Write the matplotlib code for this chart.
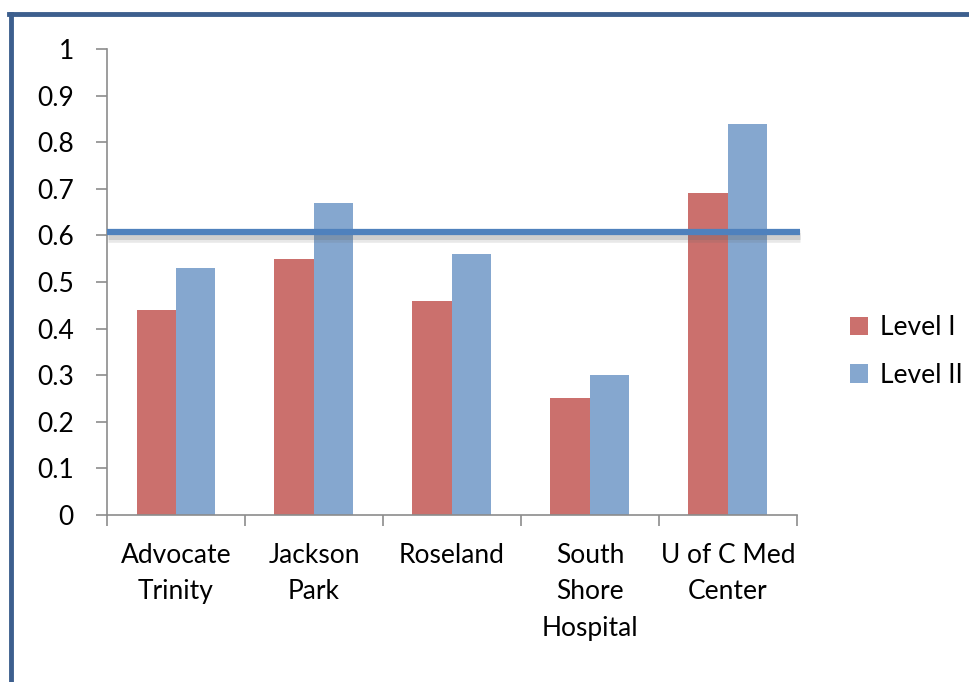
import matplotlib
matplotlib.use("Agg")
import matplotlib.pyplot as plt
import matplotlib.patheffects as pe
import numpy as np

plt.rcParams['font.family'] = ['Lato', 'DejaVu Sans']

# data
hospitals = ['Advocate\nTrinity', 'Jackson\nPark', 'Roseland', 'South\nShore\nHospital', 'U of C Med\nCenter']
level_1 = [0.44, 0.55, 0.46, 0.25, 0.69]
level_2 = [0.53, 0.67, 0.56, 0.30, 0.84]
threshold = 0.607
y_ticks = [0, 0.1, 0.2, 0.3, 0.4, 0.5, 0.6, 0.7, 0.8, 0.9, 1]
y_labels = ['0', '0.1', '0.2', '0.3', '0.4', '0.5', '0.6', '0.7', '0.8', '0.9', '1']

red = '#CB706D'
blue = '#85A7CF'
axis_gray = '#8C8C8C'
fs = 19

fig = plt.figure(figsize=(9.69, 6.82), dpi=100)
ax = fig.add_axes([0.1104, 0.2449, 0.712, 0.6833])

x = np.arange(len(hospitals))
w = 0.286
ax.bar(x - w / 2, level_1, w, color=red, label='Level I', zorder=2)
ax.bar(x + w / 2, level_2, w, color=blue, label='Level II', zorder=2)

# target line with a soft shadow
ax.plot([-0.5, 4.52], [threshold, threshold], color='#4F81BD', lw=4.5, zorder=3,
        solid_capstyle='butt', clip_on=False,
        path_effects=[pe.SimpleLineShadow(offset=(0.5, -2.5), shadow_color='#666666', alpha=0.15, linewidth=9),
                      pe.SimpleLineShadow(offset=(0.5, -2.5), shadow_color='#666666', alpha=0.2, linewidth=5),
                      pe.Normal()])

ax.set_xlim(-0.5, 4.5)
ax.set_ylim(0, 1)
ax.set_yticks(y_ticks)
ax.set_yticklabels(y_labels, fontsize=fs)
ax.set_xticks(np.arange(-0.5, 5, 1))
ax.set_xticklabels([])
ax.set_xticks(x, minor=True)
ax.set_xticklabels(hospitals, minor=True, fontsize=fs, linespacing=1.58)
ax.tick_params(axis='x', which='minor', length=0, pad=20)
ax.tick_params(axis='x', which='major', length=8, color=axis_gray, width=1.2)
ax.tick_params(axis='y', length=8, color=axis_gray, width=1.2, pad=16)

for s in ['top', 'right']:
    ax.spines[s].set_visible(False)
for s in ['left', 'bottom']:
    ax.spines[s].set_color(axis_gray)
    ax.spines[s].set_linewidth(1.2)

leg = fig.legend(loc='upper left', bbox_to_anchor=(0.866, 0.553), frameon=False,
                 fontsize=fs, handlelength=0.7, handleheight=0.7, handletextpad=0.45,
                 labelspacing=0.85, borderaxespad=0)

# outer chart frame (left and top edges visible)
frame_color = '#3D5F8E'
fig.add_artist(plt.Line2D([0.0113, 0.0113], [0, 0.9795], color=frame_color, lw=3.5))
fig.add_artist(plt.Line2D([0.0093, 1.0], [0.9795, 0.9795], color=frame_color, lw=3.5))

fig.savefig('out.png', dpi=100)
